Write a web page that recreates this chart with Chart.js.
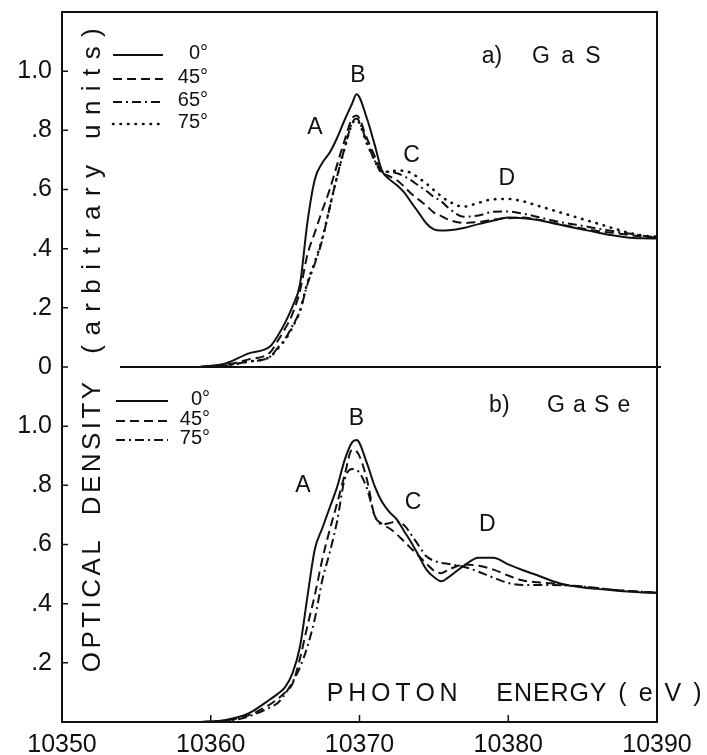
<!DOCTYPE html>
<html>
<head>
<meta charset="utf-8">
<script src="https://cdn.jsdelivr.net/npm/chart.js@4.4.1/dist/chart.umd.min.js"></script>
<style>
  html, body { margin: 0; padding: 0; background: #fff; }
  #wrap { width: 707px; height: 755px; }
</style>
</head>
<body>
<div id="wrap"><canvas id="xas" width="707" height="755"></canvas></div>
<script>
// photon energy grid (eV), shared by both panels
const energy = [10359.3, 10361, 10362.5, 10364, 10364.5, 10365, 10365.5, 10366, 10366.5, 10367,
    10367.5, 10368, 10368.5, 10369, 10369.5, 10369.8, 10370.5, 10371, 10371.5, 10372,
    10372.5, 10373, 10373.5, 10374, 10374.5, 10375, 10375.5, 10376, 10377, 10378,
    10379, 10380, 10381, 10382, 10383, 10384, 10385, 10386, 10387, 10388, 10389, 10390];

// a) GaS, optical density for each angle
const gas0 = [0, 0.012, 0.045, 0.07, 0.105, 0.15, 0.205, 0.28, 0.49, 0.635,
    0.69, 0.725, 0.775, 0.835, 0.89, 0.922, 0.84, 0.755, 0.665, 0.635,
    0.615, 0.59, 0.555, 0.52, 0.485, 0.465, 0.461, 0.462, 0.47, 0.483,
    0.495, 0.505, 0.503, 0.497, 0.486, 0.475, 0.465, 0.455, 0.445, 0.438, 0.435, 0.434];
const gas45 = [0, 0.008, 0.025, 0.05, 0.088, 0.13, 0.18, 0.258, 0.38, 0.455,
    0.53, 0.6, 0.685, 0.766, 0.84, 0.85, 0.773, 0.715, 0.66, 0.645,
    0.632, 0.61, 0.585, 0.565, 0.545, 0.522, 0.51, 0.498, 0.487, 0.49,
    0.498, 0.503, 0.505, 0.498, 0.488, 0.477, 0.468, 0.46, 0.454, 0.447, 0.441, 0.437];
const gas65 = [0, 0.005, 0.018, 0.035, 0.065, 0.095, 0.14, 0.19, 0.28, 0.35,
    0.43, 0.54, 0.645, 0.74, 0.825, 0.84, 0.76, 0.7, 0.66, 0.66,
    0.655, 0.645, 0.63, 0.612, 0.595, 0.575, 0.56, 0.537, 0.508, 0.512,
    0.525, 0.526, 0.518, 0.507, 0.495, 0.485, 0.477, 0.468, 0.46, 0.452, 0.444, 0.438];
const gas75 = [0, 0.005, 0.018, 0.035, 0.062, 0.092, 0.135, 0.19, 0.285, 0.355,
    0.435, 0.54, 0.645, 0.74, 0.822, 0.835, 0.755, 0.7, 0.66, 0.66,
    0.664, 0.663, 0.655, 0.638, 0.62, 0.598, 0.577, 0.56, 0.542, 0.555,
    0.567, 0.568, 0.56, 0.545, 0.53, 0.515, 0.5, 0.485, 0.47, 0.455, 0.445, 0.44];

// b) GaSe
const gase0 = [0, 0.007, 0.028, 0.077, 0.095, 0.118, 0.165, 0.255, 0.424, 0.585,
    0.655, 0.725, 0.795, 0.885, 0.945, 0.953, 0.875, 0.8, 0.745, 0.71,
    0.685, 0.645, 0.605, 0.56, 0.515, 0.49, 0.476, 0.49, 0.528, 0.555,
    0.555, 0.533, 0.513, 0.495, 0.476, 0.462, 0.455, 0.45, 0.445, 0.441, 0.438, 0.437];
const gase45 = [0, 0.005, 0.022, 0.06, 0.078, 0.1, 0.13, 0.215, 0.325, 0.43,
    0.55, 0.65, 0.74, 0.835, 0.92, 0.915, 0.82, 0.7, 0.67, 0.655,
    0.635, 0.61, 0.585, 0.56, 0.535, 0.512, 0.503, 0.515, 0.532, 0.528,
    0.515, 0.495, 0.478, 0.472, 0.468, 0.463, 0.458, 0.452, 0.447, 0.443, 0.44, 0.437];
const gase75 = [0, 0.003, 0.018, 0.05, 0.064, 0.095, 0.135, 0.185, 0.255, 0.35,
    0.48, 0.573, 0.68, 0.82, 0.855, 0.852, 0.79, 0.7, 0.668, 0.672,
    0.678, 0.665, 0.632, 0.595, 0.56, 0.545, 0.538, 0.534, 0.525, 0.508,
    0.488, 0.47, 0.463, 0.463, 0.463, 0.461, 0.458, 0.453, 0.447, 0.443, 0.44, 0.437];

const energyRange = [10350, 10390];
const densityRange = [0, 1.2];

// peak letters: [letter, energy, density]
const gasPeaks = [['A', 10367.0, 0.81], ['B', 10369.9, 0.985], ['C', 10373.5, 0.715], ['D', 10379.9, 0.637]];
const gasePeaks = [['A', 10366.2, 0.80], ['B', 10369.8, 1.025], ['C', 10373.6, 0.742], ['D', 10378.6, 0.668]];

const ink = '#111';
Chart.defaults.font.family = "'Liberation Sans', Arial, sans-serif";
Chart.defaults.color = ink;

function series(label, values, axis, dash, width, cap) {
    return {
        label: label,
        yAxisID: axis,
        data: energy.map((e, i) => ({ x: e, y: values[i] })),
        borderColor: ink,
        borderWidth: width,
        borderDash: dash,
        borderCapStyle: cap,
        pointRadius: 0,
        cubicInterpolationMode: 'monotone',
        fill: false
    };
}

const solid = [], dashed = [9, 5], dashDot = [9, 4, 2, 4], dotted = [0.5, 7];

// draw text spread out so it fills from..to (old typewriter-ish spacing)
function spread(ctx, text, from, to, y) {
    const chars = [...text];
    const w = chars.map(c => ctx.measureText(c).width);
    const sum = w.reduce((a, b) => a + b, 0);
    const gap = chars.length > 1 ? (to - from - sum) / (chars.length - 1) : 0;
    let x = from;
    ctx.textAlign = 'left';
    chars.forEach((c, i) => { ctx.fillText(c, x, y); x += w[i] + gap; });
}

function drawLegend(ctx, sets, x0, x1, xText, rows) {
    ctx.font = "20px 'Liberation Sans', Arial, sans-serif";
    ctx.textAlign = 'right';
    ctx.textBaseline = 'middle';
    sets.forEach((ds, i) => {
        const y = rows[i];
        ctx.save();
        ctx.lineWidth = ds.borderWidth;
        ctx.setLineDash(ds.borderDash);
        ctx.lineCap = ds.borderCapStyle;
        ctx.beginPath();
        ctx.moveTo(x0, y);
        ctx.lineTo(x1, y);
        ctx.stroke();
        ctx.restore();
        ctx.fillText(ds.label, xText, y - 2);
    });
}

const decorations = {
    id: 'decorations',
    afterDraw(chart) {
        const ctx = chart.ctx;
        const a = chart.chartArea;
        const x = chart.scales.x, yTop = chart.scales.yTop, yBot = chart.scales.yBot;
        const split = yTop.getPixelForValue(0);
        ctx.save();
        ctx.strokeStyle = ink;
        ctx.fillStyle = ink;
        ctx.lineWidth = 2;

        // frame and panel separator
        ctx.strokeRect(a.left, a.top, a.right - a.left, a.bottom - a.top);
        ctx.beginPath();
        ctx.moveTo(a.left + 58, split);
        ctx.lineTo(a.right + 4, split);
        ctx.stroke();

        // inward ticks
        ctx.lineWidth = 1.5;
        ctx.beginPath();
        [yTop, yBot].forEach(s => s.ticks.forEach(t => {
            if (t.value > 1.1) return;
            const py = s.getPixelForValue(t.value);
            ctx.moveTo(a.left, py);
            ctx.lineTo(a.left + 6, py);
        }));
        x.ticks.forEach(t => {
            const px = x.getPixelForValue(t.value);
            ctx.moveTo(px, a.bottom);
            ctx.lineTo(px, a.bottom - 7);
        });
        ctx.stroke();

        // legends
        const sets = chart.data.datasets;
        drawLegend(ctx, sets.filter(d => d.yAxisID === 'yTop'), a.left + 51, a.left + 101, a.left + 146,
            [a.top + 43, a.top + 67, a.top + 90, a.top + 112]);
        drawLegend(ctx, sets.filter(d => d.yAxisID === 'yBot'), a.left + 54, a.left + 106, a.left + 148,
            [split + 34, split + 54, split + 73]);

        // peak letters
        ctx.font = "23px 'Liberation Sans', Arial, sans-serif";
        ctx.textAlign = 'center';
        ctx.textBaseline = 'middle';
        gasPeaks.forEach(p => ctx.fillText(p[0], x.getPixelForValue(p[1]), yTop.getPixelForValue(p[2])));
        gasePeaks.forEach(p => ctx.fillText(p[0], x.getPixelForValue(p[1]), yBot.getPixelForValue(p[2])));

        // panel titles
        ctx.fillText('a)', x.getPixelForValue(10378.9), yTop.getPixelForValue(1.05));
        spread(ctx, 'GaS', x.getPixelForValue(10381.6), x.getPixelForValue(10386.2), yTop.getPixelForValue(1.05));
        ctx.textAlign = 'center';
        ctx.fillText('b)', x.getPixelForValue(10379.4), yBot.getPixelForValue(1.068));
        spread(ctx, 'GaSe', x.getPixelForValue(10382.6), x.getPixelForValue(10388.2), yBot.getPixelForValue(1.068));

        // axis titles
        ctx.font = "25px 'Liberation Sans', Arial, sans-serif";
        const ty = yBot.getPixelForValue(0.095);
        spread(ctx, 'PHOTON', x.getPixelForValue(10367.8), x.getPixelForValue(10376.6), ty);
        spread(ctx, 'ENERGY', x.getPixelForValue(10379.2), x.getPixelForValue(10386.6), ty);
        spread(ctx, '(eV)', x.getPixelForValue(10387.4), x.getPixelForValue(10393.0), ty);

        ctx.font = "26px 'Liberation Sans', Arial, sans-serif";
        const cx = a.left + 31;
        const vertical = (text, y0, y1) => {
            ctx.save();
            ctx.translate(cx, y0);
            ctx.rotate(-Math.PI / 2);
            spread(ctx, text, 0, y0 - y1, 0);
            ctx.restore();
        };
        vertical('OPTICAL  DENSITY', yBot.getPixelForValue(0.168), yBot.getPixelForValue(1.15));
        vertical('(arbitrary units)', yTop.getPixelForValue(0.045), yTop.getPixelForValue(1.145));
        ctx.restore();
    }
};

function densityAxis(weight, showZero) {
    return {
        type: 'linear',
        position: 'left',
        stack: 'panels',
        stackWeight: 1,
        weight: weight,
        min: densityRange[0],
        max: densityRange[1],
        ticks: {
            stepSize: 0.2,
            autoSkip: false,
            padding: 10,
            font: { size: 25 },
            color: ink,
            callback: v => {
                if (v > 1.1) return '';
                if (Math.abs(v) < 1e-9) return showZero ? '0' : '';
                const s = v.toFixed(1);
                return s.startsWith('0') ? s.slice(1) : s;
            }
        },
        grid: { display: false, drawTicks: false },
        border: { display: false },
        afterFit: s => {
            s.width = 62;
            s.paddingTop = 0;
            s.paddingBottom = 0;
        }
    };
}

new Chart(document.getElementById('xas'), {
    type: 'line',
    data: {
        datasets: [
            series('0°', gas0, 'yTop', solid, 2, 'butt'),
            series('45°', gas45, 'yTop', dashed, 2, 'butt'),
            series('65°', gas65, 'yTop', dashDot, 2, 'butt'),
            series('75°', gas75, 'yTop', dotted, 2.6, 'round'),
            series('0°', gase0, 'yBot', solid, 2, 'butt'),
            series('45°', gase45, 'yBot', dashed, 2, 'butt'),
            series('75°', gase75, 'yBot', dashDot, 2, 'butt')
        ]
    },
    options: {
        responsive: false,
        animation: false,
        devicePixelRatio: 1,
        layout: { padding: { top: 12, right: 50, left: 0, bottom: 0 } },
        plugins: { legend: { display: false }, tooltip: { enabled: false } },
        scales: {
            x: {
                type: 'linear',
                position: 'bottom',
                min: energyRange[0],
                max: energyRange[1],
                ticks: {
                    stepSize: 10,
                    padding: 8,
                    maxRotation: 0,
                    font: { size: 25 },
                    color: ink,
                    callback: v => String(v)
                },
                grid: { display: false, drawTicks: false },
                border: { display: false },
                afterFit: s => { s.height = 33; }
            },
            yTop: densityAxis(2, true),
            yBot: densityAxis(1, false)
        }
    },
    plugins: [decorations]
});
</script>
</body>
</html>
